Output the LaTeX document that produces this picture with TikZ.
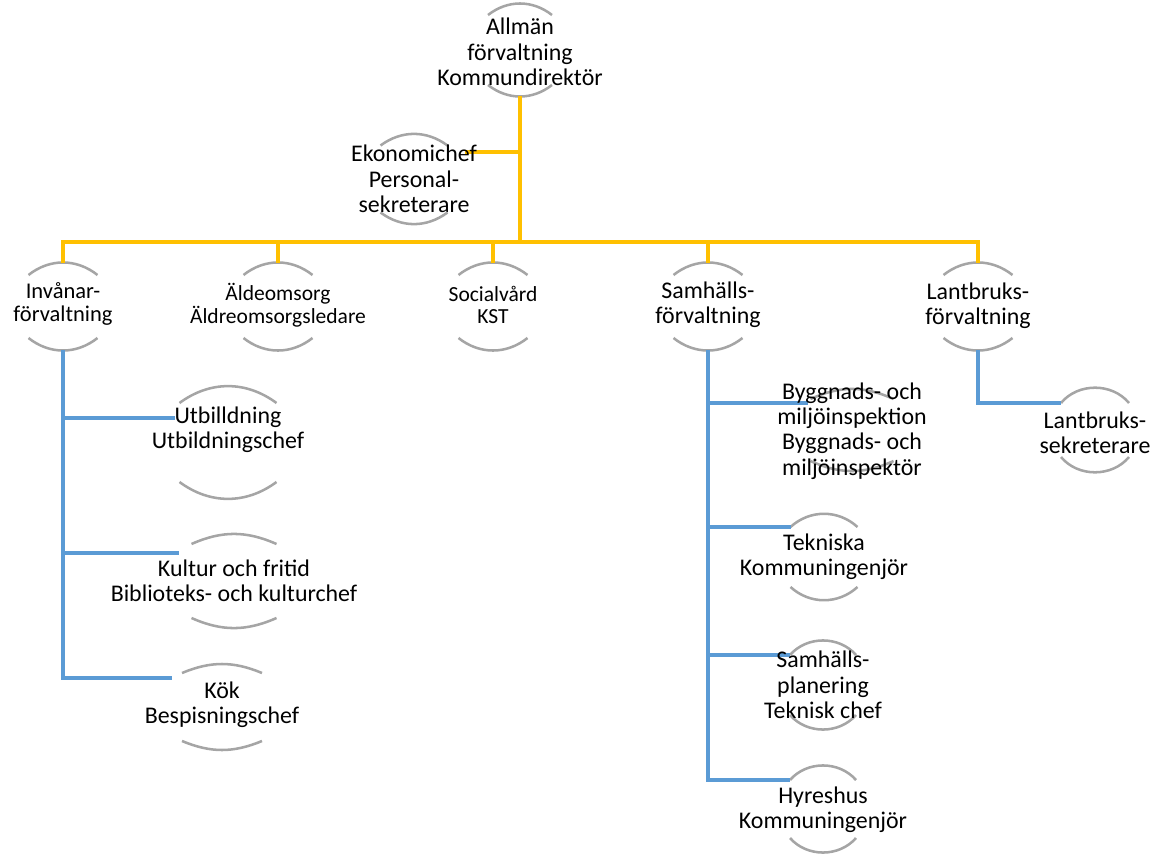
\documentclass[tikz,border=0pt]{standalone}
\usepackage{fontspec}
\setmainfont{Carlito}
\usetikzlibrary{calc,backgrounds}

\definecolor{gold}{HTML}{FFC000}
\definecolor{steel}{HTML}{5B9BD5}
\definecolor{ringgrey}{HTML}{A5A5A5}

\tikzset{
  unit/.style={font=\fontsize{17}{18}\selectfont, align=center, inner sep=0pt},
  midunit/.style={unit, font=\fontsize{16}{17}\selectfont},
  smallunit/.style={unit, font=\fontsize{15.3}{16}\selectfont},
  goldline/.style={draw=gold, line width=2.2pt},
  blueline/.style={draw=steel, line width=2.2pt},
  ringline/.style={draw=ringgrey, line width=1.8pt},
}

% arcs above and below a unit: name, shift, half gap, half chord, sagitta
\newcommand{\ringarcs}[5]{%
  \pgfmathsetmacro\ringbend{2*atan(#5/#4)}
  \coordinate (#1-c) at ($(#1.center)+(0,#2)$);
  \coordinate (#1-top) at ($(#1-c)+(0,#3)$);
  \coordinate (#1-bot) at ($(#1-c)+(0,-#3)$);
  \coordinate (#1-in) at ($(#1-c)+(-#4,#3-#5)$);
  \draw[ringline] (#1-in) to[bend left=\ringbend] ($(#1-c)+(#4,#3-#5)$);
  \draw[ringline] ($(#1-c)+(-#4,-#3+#5)$) to[bend right=\ringbend] ($(#1-c)+(#4,-#3+#5)$);
}

\begin{document}
\begin{tikzpicture}[x=0.025cm, y=0.025cm]
  \useasboundingbox (0,0) rectangle (1157,-854);

  % top
  \node[unit] (top) at (520,-52) {Allmän\\förvaltning\\Kommundirektör};
  \node[unit] (eko) at (414,-179) {Ekonomichef\\Personal-\\sekreterare};

  % second row
  \node[midunit] (inv) at (63,-304) {Invånar-\\förvaltning};
  \node[smallunit] (aeld) at (278,-305) {Äldeomsorg\\Äldreomsorgsledare};
  \node[smallunit] (soc) at (493,-305) {Socialvård\\KST};
  \node[unit] (samh) at (708,-305) {Samhälls-\\förvaltning};
  \node[unit] (lant) at (978,-306) {Lantbruks-\\förvaltning};

  % under Invånarförvaltning
  \node[unit] (utb) at (228,-430) {Utbilldning\\Utbildningschef};
  \node[unit] (kult) at (234,-581) {Kultur och fritid\\Biblioteks- och kulturchef};
  \node[unit] (kok) at (222,-705) {Kök\\Bespisningschef};

  % under Samhällsförvaltning
  \node[unit] (bygg) at (852,-431) {Byggnads- och\\miljöinspektion\\Byggnads- och\\miljöinspektör};
  \node[unit] (tekn) at (824,-557) {Tekniska\\Kommuningenjör};
  \node[unit] (plan) at (823,-685) {Samhälls-\\planering\\Teknisk chef};
  \node[unit] (hyr) at (823,-810) {Hyreshus\\Kommuningenjör};

  % under Lantbruksförvaltning
  \node[unit] (lsek) at (1095,-433) {Lantbruks-\\sekreterare};

  \begin{scope}[on background layer]
    \ringarcs{top}{2}{46}{32}{11}
    \ringarcs{eko}{0}{44.5}{33.5}{11}
    \ringarcs{inv}{-2.5}{43.5}{34.5}{12}
    \ringarcs{aeld}{-1.5}{43.5}{34.5}{12}
    \ringarcs{soc}{-1.5}{43.5}{34.5}{12}
    \ringarcs{samh}{-1.5}{43.5}{34.5}{12}
    \ringarcs{lant}{-0.5}{43.5}{34.5}{12}
    \ringarcs{utb}{-12.5}{55.5}{48.5}{16}
    \ringarcs{kult}{0}{46}{42.5}{9}
    \ringarcs{kok}{-2}{42}{40}{8}
    \ringarcs{bygg}{1}{40}{41.5}{9}
    \ringarcs{tekn}{0}{43}{33.5}{13}
    \ringarcs{plan}{0}{45}{33}{15}
    \ringarcs{hyr}{1}{44}{33}{15}
    \ringarcs{lsek}{3}{43}{34}{16}

    \coordinate (bus) at (520,-242);
    \coordinate (eko-hook) at ($(eko-c)+(51,27)$);

    \draw[goldline] (top-bot) -- (bus);
    \draw[goldline] (eko-hook) -- (eko-hook -| top-bot);
    \draw[goldline] (inv-top) |- (bus) -| (lant-top);
    \foreach \n in {aeld,soc,samh}
      \draw[goldline] (\n-top) -- (\n-top |- bus);

    \draw[blueline] (inv-bot) |- ($(kok-in)+(-10,-5)$);
    \draw[blueline] ($(utb-in)+(-5,-15)$) -| (inv-bot);
    \draw[blueline] ($(kult-in)+(-13,-9)$) -| (inv-bot);

    \draw[blueline] (samh-bot) |- (hyr-in);
    \draw[blueline] ($(bygg-in)+(-3,-4)$) -| (samh-bot);
    \foreach \n in {tekn,plan}
      \draw[blueline] (\n-in -| samh-bot) -- (\n-in);

    \draw[blueline] (lant-bot) |- (lsek-in);
  \end{scope}
\end{tikzpicture}
\end{document}
